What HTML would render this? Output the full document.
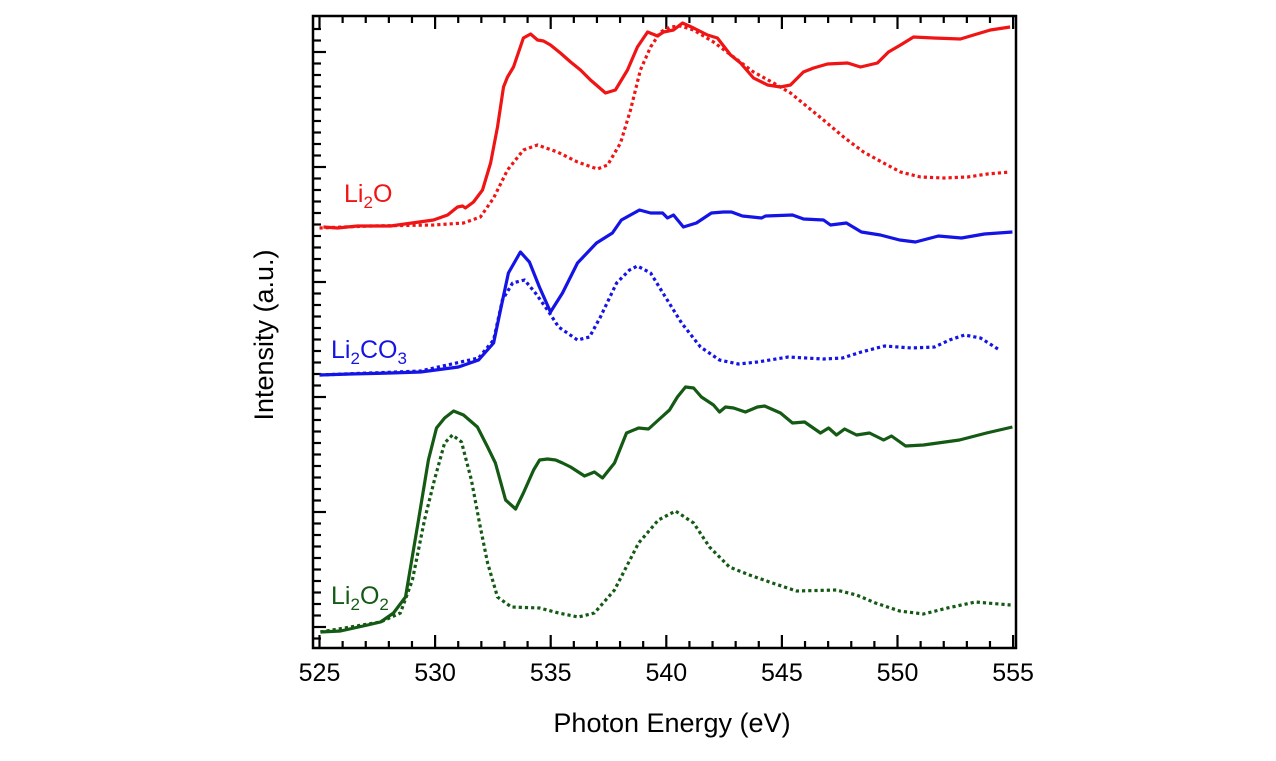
<!DOCTYPE html>
<html><head><meta charset="utf-8"><style>
html,body{margin:0;padding:0;background:#fff;}
svg text{font-family:"Liberation Sans",Arial,sans-serif;}
</style></head><body>
<svg id="chart" width="1276" height="756" viewBox="0 0 1276 756" xmlns="http://www.w3.org/2000/svg">
<g id="ticks"></g>
<g id="series"></g>
<rect x="313" y="16" width="703" height="632" fill="none" stroke="#000" stroke-width="2.5"/>
<g id="xlabels"></g>
<text x="672" y="732" font-size="27" text-anchor="middle">Photon Energy (eV)</text>
<text transform="translate(273,335) rotate(-90)" font-size="27" text-anchor="middle">Intensity (a.u.)</text>
<text x="344" y="202" font-size="25" fill="#f01414">Li<tspan font-size="17" dy="6">2</tspan><tspan dy="-6">O</tspan></text>
<text x="331" y="358" font-size="25" fill="#1414e6">Li<tspan font-size="17" dy="6">2</tspan><tspan dy="-6">CO</tspan><tspan font-size="17" dy="6">3</tspan></text>
<text x="331" y="604" font-size="25" fill="#145a14">Li<tspan font-size="17" dy="6">2</tspan><tspan dy="-6">O</tspan><tspan font-size="17" dy="6">2</tspan></text>
</svg>
<script>
const xTickLabels=[525,530,535,540,545,550,555];
const li2oExpE=[525.17,525.78,526.64,528.07,529.93,530.54,530.97,531.19,531.31,531.66,532.05,532.40,532.70,532.96,533.13,533.39,533.82,534.13,534.43,534.69,534.99,535.42,535.86,536.29,536.72,537.37,537.80,538.32,538.75,539.19,539.62,539.88,540.31,540.70,541.18,541.78,542.21,542.78,543.21,543.77,544.38,544.94,545.37,545.93,546.37,546.97,547.84,548.40,549.13,549.61,550.13,550.69,551.56,552.72,553.29,554.02,554.87];
const li2oExpI=[400,399,401,401,407,412,420,421,419,425,437,464,500,540,550,560,589,593,587,586,582,574,565,557,547,534,537,557,580,595,591,595,597,604,599,592,589,572,564,549,542,540,542,555,559,563,564,560,564,575,582,590,589,588,592,597,600];
const li2oCalcE=[525.00,527.21,529.93,531.23,531.96,532.53,533.13,533.82,534.43,535.29,536.16,537.02,537.46,538.02,538.45,538.88,539.32,539.75,540.18,540.62,541.18,542.04,542.91,543.77,544.64,545.37,546.11,546.80,547.67,548.53,549.40,550.13,551.00,551.99,553.03,553.89,554.87];
const li2oCalcI=[399,401,402,404,410,429,457,477,482,475,465,458,462,484,517,557,580,595,600,601,597,585,570,555,544,534,520,507,490,475,464,455,450,449,450,453,455];
const li2co3ExpE=[525.00,526.34,528.07,529.37,531.01,531.88,532.53,532.83,533.17,533.69,534.08,534.51,534.99,535.51,536.16,536.98,537.67,538.06,538.84,539.32,539.84,540.05,540.31,540.74,541.30,541.95,542.47,542.82,543.29,544.12,544.29,545.46,545.94,546.80,547.10,547.79,548.44,549.26,550.09,550.78,551.77,552.77,553.76,554.97];
const li2co3ExpI=[252,253,254,255,260,267,284,317,354,375,365,340,315,334,364,384,394,407,417,414,414,409,412,400,404,414,415,415,411,409,411,412,408,407,402,404,395,392,387,385,391,389,393,395];
const li2co3CalcE=[525.00,529.37,531.88,532.53,532.91,533.35,533.87,534.34,534.86,535.34,536.16,536.68,537.15,537.85,538.41,538.75,539.32,539.96,540.66,541.48,542.30,543.12,543.94,545.28,546.80,547.62,548.44,549.44,550.61,551.60,552.25,552.90,553.59,554.41];
const li2co3CalcI=[252,256,269,287,327,344,347,334,317,300,287,290,310,344,357,361,354,330,304,280,267,263,265,270,268,269,275,281,279,280,287,292,289,277];
const li2o2ExpE=[525.04,525.91,527.08,527.64,528.20,528.72,529.28,529.71,530.06,530.41,530.80,531.23,531.83,532.27,532.61,533.05,533.48,533.82,534.26,534.52,534.86,535.21,535.51,535.86,536.46,536.89,537.24,537.76,538.28,538.80,539.23,539.66,540.14,540.48,540.83,541.18,541.52,542.04,542.30,542.56,542.91,543.42,543.94,544.25,544.94,545.46,545.98,546.67,547.02,547.36,547.71,548.23,548.79,549.40,549.74,550.35,551.12,552.68,553.85,554.97];
const li2o2ExpI=[-5,-4,2,5,14,30,107,167,199,209,216,212,200,180,164,127,118,134,157,167,168,167,164,160,151,155,149,164,194,199,198,207,217,230,240,239,230,222,215,220,219,215,220,221,214,204,205,194,199,192,198,192,194,187,191,181,182,187,194,200];
const li2o2CalcE=[525.04,527.64,528.50,529.02,529.54,529.97,530.41,530.75,531.14,531.57,531.92,532.27,532.70,533.30,534.52,535.34,536.20,536.89,537.76,538.80,539.66,540.40,541.18,541.87,542.73,543.60,544.59,545.63,547.36,548.23,549.05,550.09,551.12,552.16,553.37,554.89];
const li2o2CalcI=[-5,5,14,47,107,147,184,192,185,147,104,64,30,20,19,14,10,14,37,84,107,116,104,80,60,52,44,36,37,32,24,16,13,19,25,22];

const NS='http://www.w3.org/2000/svg';
const X0=319.5,PX=23.12,Y0=627,PY=1;
function xs(e){return X0+(e-525)*PX;}
function ys(v){return Y0-v*PY;}
function mk(tag,attrs,parent){const el=document.createElementNS(NS,tag);for(const k in attrs)el.setAttribute(k,attrs[k]);parent.appendChild(el);return el;}
const ticks=document.getElementById('ticks');
for(let e=525;e<=555;e++){
  const major=(e%5===0),L=major?13:7,x=xs(e);
  const t=mk('line',{x1:x,x2:x,y1:648,y2:648-L,stroke:'#000','stroke-width':2.2},ticks);
  
  
  const t2=mk('line',{x1:x,x2:x,y1:16,y2:16+L,stroke:'#000','stroke-width':2.2},ticks);
  
  
}
for(let i=-1;i<=54;i++){
  const y=Y0-i*11.5;if(y<18||y>646)continue;
  const L=(i%10===0)?13:8;
  const t=mk('line',{x1:313,x2:313+L,y1:y,y2:y,stroke:'#000','stroke-width':2.2},ticks);
  
  
}
const xl=document.getElementById('xlabels');
xTickLabels.forEach(v=>{
  const t=mk('text',{x:xs(v),y:681,'font-size':25,'text-anchor':'middle'},xl);
  t.textContent=v;
  
  
});
const sg=document.getElementById('series');
function line(E,I,color,dotted,name){
  const n=Math.min(E.length,I.length);let d='';
  for(let i=0;i<n;i++)d+=(i?'L':'M')+xs(E[i]).toFixed(1)+','+ys(I[i]).toFixed(1);
  const p=mk('path',{d:d,fill:'none',stroke:color,'stroke-width':3.2,'stroke-linejoin':'round'},sg);
  if(dotted)p.setAttribute('stroke-dasharray','3.2 3');
  
  
}
line(li2oCalcE,li2oCalcI,'#f01414',true,'li2o-calculated-line');
line(li2oExpE,li2oExpI,'#f01414',false,'li2o-experimental-line');
line(li2co3CalcE,li2co3CalcI,'#1414e6',true,'li2co3-calculated-line');
line(li2co3ExpE,li2co3ExpI,'#1414e6',false,'li2co3-experimental-line');
line(li2o2CalcE,li2o2CalcI,'#145a14',true,'li2o2-calculated-line');
line(li2o2ExpE,li2o2ExpI,'#145a14',false,'li2o2-experimental-line');
</script>
</body></html>
